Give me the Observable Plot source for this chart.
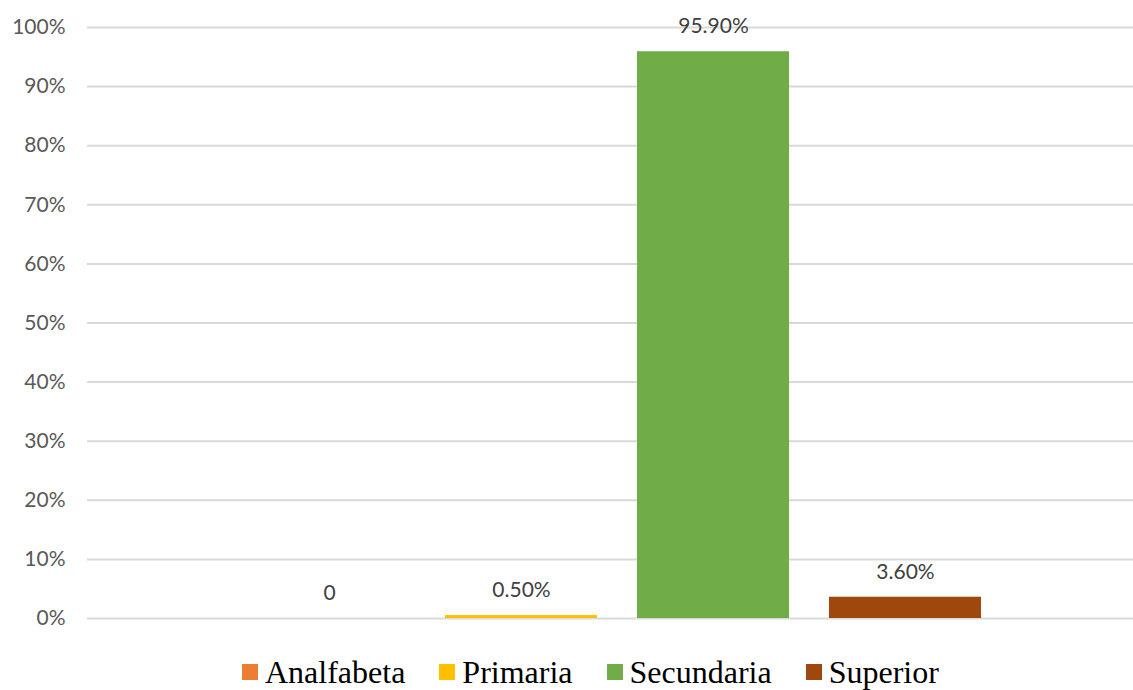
<!DOCTYPE html>
<html>
<head>
<meta charset="utf-8">
<script src="https://cdn.jsdelivr.net/npm/d3@7"></script>
<script src="https://cdn.jsdelivr.net/npm/@observablehq/plot@0.6"></script>
<style>
  html, body { margin: 0; padding: 0; background: #fff; }
  #wrap { position: relative; width: 1133px; height: 690px; }
  #legend { position: absolute; left: 242px; top: 652px; display: flex; align-items: center;
    font-family: "Liberation Serif", "Times New Roman", serif; font-size: 32px; line-height: 40px; color: #000; }
  #legend .item { display: flex; align-items: center; margin-right: 34px; }
  #legend .sw { width: 16px; height: 16px; margin-right: 7px; }
</style>
</head>
<body>
<div id="wrap"><div id="chart"></div><div id="legend"></div></div>
<script>
const categories = ["Analfabeta", "Primaria", "Secundaria", "Superior"];
const values = [0, 0.005, 0.959, 0.036];
const labels = ["0", "0.50%", "95.90%", "3.60%"];
const colors = ["#ED7D31", "#FFC000", "#70AD47", "#9E480E"];
const yTicks = [0, 0.1, 0.2, 0.3, 0.4, 0.5, 0.6, 0.7, 0.8, 0.9, 1.0];

const data = categories.map((c, i) => ({ category: c, value: values[i], label: labels[i] }));

const chart = Plot.plot({
  width: 1133,
  height: 645,
  marginLeft: 87,
  marginRight: 0,
  marginTop: 27,
  marginBottom: 27,
  style: { fontFamily: "Lato, 'Open Sans', sans-serif", fontSize: "21px", color: "#595959", background: "#fff" },
  x: { domain: categories, axis: null, paddingInner: 0.21, paddingOuter: 0.822, align: 0.523 },
  y: { domain: [0, 1], ticks: yTicks, tickFormat: d => Math.round(d * 100) + "%", tickSize: 0, tickPadding: 22, label: null },
  color: { domain: categories, range: colors },
  marks: [
    Plot.gridY(yTicks, { stroke: "#d9d9d9", strokeOpacity: 1, strokeWidth: 2 }),
    Plot.barY(data, { x: "category", y: "value", fill: "category" }),
    Plot.text(data, { x: "category", y: "value", text: "label", dy: -25, fill: "#404040", fontSize: 21 }),
    Plot.axisY(yTicks, { tickSize: 0, tickPadding: 22, tickFormat: d => Math.round(d * 100) + "%", fill: "#595959", fontSize: 21, label: null })
  ]
});
document.getElementById("chart").appendChild(chart);

const legend = document.getElementById("legend");
categories.forEach((c, i) => {
  const item = document.createElement("div");
  item.className = "item";
  const sw = document.createElement("div");
  sw.className = "sw";
  sw.style.background = colors[i];
  const t = document.createElement("span");
  t.textContent = c;
  item.appendChild(sw); item.appendChild(t);
  legend.appendChild(item);
});
</script>
</body>
</html>
